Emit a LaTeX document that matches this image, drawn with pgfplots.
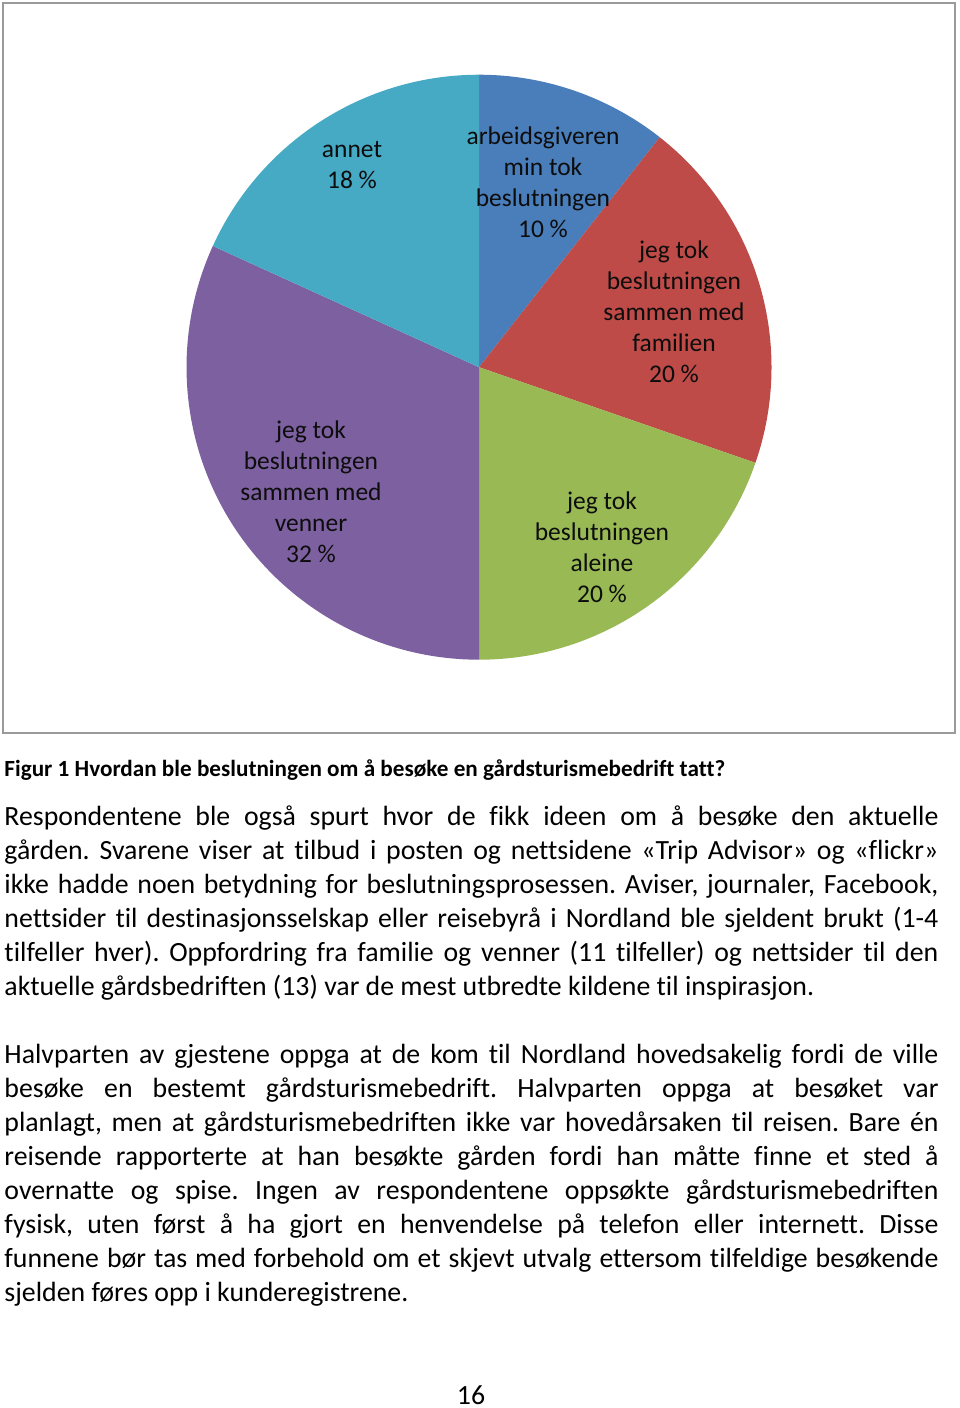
\documentclass[border=0pt]{standalone}
\usepackage{fontspec}
\setmainfont{Carlito}[Ligatures=NoCommon]
\usepackage{pgfplots}
\pgfplotsset{compat=1.18}
\usepackage{pgfplotstable}
\definecolor{pieblue}{HTML}{4A7EBB}
\definecolor{piered}{HTML}{BE4B48}
\definecolor{piegreen}{HTML}{98B954}
\definecolor{piepurple}{HTML}{7D60A0}
\definecolor{piecyan}{HTML}{46AAC5}
\definecolor{boxgray}{HTML}{9A9A9A}
\definecolor{lbl}{HTML}{0D0D0D}
\pgfplotstableread{
label share
arbeidsgiveren 10.6
familien 19.7
aleine 19.7
venner 31.8
annet 18.2
}\piedata
\pgfplotstablegetelem{0}{share}\of\piedata \edef\vA{\pgfplotsretval}
\pgfplotstablegetelem{1}{share}\of\piedata \edef\vB{\pgfplotsretval}
\pgfplotstablegetelem{2}{share}\of\piedata \edef\vC{\pgfplotsretval}
\pgfplotstablegetelem{3}{share}\of\piedata \edef\vD{\pgfplotsretval}
\pgfplotstablegetelem{4}{share}\of\piedata \edef\vE{\pgfplotsretval}
\pgfmathsetmacro\aA{90}
\pgfmathsetmacro\aB{\aA-3.6*\vA}
\pgfmathsetmacro\aC{\aB-3.6*\vB}
\pgfmathsetmacro\aD{\aC-3.6*\vC}
\pgfmathsetmacro\aE{\aD-3.6*\vD}
\pgfmathsetmacro\aF{\aE-3.6*\vE}
\newcommand\bodyfont{\fontsize{12pt}{14.64pt}\selectfont}
\newcommand\lblfont{\fontsize{11pt}{13.4pt}\selectfont}
\newcommand\W{403.1pt}
\frenchspacing
\begin{document}
\frenchspacing
\begin{tikzpicture}
\begin{scope}[x=0.4316pt,y=-0.4316pt]
\path (0,0) rectangle (960,1408);
\draw[boxgray, line width=0.8pt] (3,3) rectangle (955,733);
\end{scope}
\begin{axis}[at={(206.74pt,-158.48pt)}, anchor=center, scale only axis,
  width=252.48pt, height=252.48pt, hide axis,
  xmin=-1, xmax=1, ymin=-1, ymax=1, clip=false]
\fill[pieblue] (axis cs:0,0) -- (axis cs:{cos(\aA)},{sin(\aA)}) arc[start angle=\aA, end angle=\aB, radius=126.24pt] -- cycle;
\fill[piered] (axis cs:0,0) -- (axis cs:{cos(\aB)},{sin(\aB)}) arc[start angle=\aB, end angle=\aC, radius=126.24pt] -- cycle;
\fill[piegreen] (axis cs:0,0) -- (axis cs:{cos(\aC)},{sin(\aC)}) arc[start angle=\aC, end angle=\aD, radius=126.24pt] -- cycle;
\fill[piepurple] (axis cs:0,0) -- (axis cs:{cos(\aD)},{sin(\aD)}) arc[start angle=\aD, end angle=\aE, radius=126.24pt] -- cycle;
\fill[piecyan] (axis cs:0,0) -- (axis cs:{cos(\aE)},{sin(\aE)}) arc[start angle=\aE, end angle=\aF, radius=126.24pt] -- cycle;
\end{axis}
\begin{scope}[x=0.4316pt,y=-0.4316pt]
% pie labels
\begin{scope}[every node/.style={anchor=base, inner sep=0pt, font=\lblfont, text=lbl}]
\foreach \t [count=\i from 0] in {arbeidsgiveren, min tok, beslutningen, 10 \%}
  \node at (543, 144+31*\i) {\t};
\foreach \t [count=\i from 0] in {jeg tok, beslutningen, sammen med, familien, 20 \%}
  \node at (674, 258+31*\i) {\t};
\foreach \t [count=\i from 0] in {jeg tok, beslutningen, aleine, 20 \%}
  \node at (602, 509+31*\i) {\t};
\foreach \t [count=\i from 0] in {jeg tok, beslutningen, sammen med, venner, 32 \%}
  \node at (311, 438+31*\i) {\t};
\foreach \t [count=\i from 0] in {annet, 18 \%}
  \node at (352, 157+31*\i) {\t};
\end{scope}
% caption and text
\begin{scope}[every node/.style={anchor=base west, inner sep=0pt, font=\bodyfont}]
\node[font=\fontsize{10pt}{12pt}\selectfont\bfseries] at (4,776) {Figur 1 Hvordan ble beslutningen om å besøke en gårdsturismebedrift tatt?};
\node at (4,825) {\hbox to \W{Respondentene ble også spurt hvor de fikk ideen om å besøke den aktuelle}};
\node at (4,859) {\hbox to \W{gården. Svarene viser at tilbud i posten og nettsidene «Trip Advisor» og «flickr»}};
\node at (4,893) {\hbox to \W{ikke hadde noen betydning for beslutningsprosessen. Aviser, journaler, Facebook,}};
\node at (4,927) {\hbox to \W{nettsider til destinasjonsselskap eller reisebyrå i Nordland ble sjeldent brukt (1-4}};
\node at (4,961) {\hbox to \W{tilfeller hver). Oppfordring fra familie og venner (11 tilfeller) og nettsider til den}};
\node at (4,995) {aktuelle gårdsbedriften (13) var de mest utbredte kildene til inspirasjon.};
\node at (4,1063) {\hbox to \W{Halvparten av gjestene oppga at de kom til Nordland hovedsakelig fordi de ville}};
\node at (4,1097) {\hbox to \W{besøke en bestemt gårdsturismebedrift. Halvparten oppga at besøket var}};
\node at (4,1131) {\hbox to \W{planlagt, men at gårdsturismebedriften ikke var hovedårsaken til reisen. Bare én}};
\node at (4,1165) {\hbox to \W{reisende rapporterte at han besøkte gården fordi han måtte finne et sted å}};
\node at (4,1199) {\hbox to \W{overnatte og spise. Ingen av respondentene oppsøkte gårdsturismebedriften}};
\node at (4,1233) {\hbox to \W{fysisk, uten først å ha gjort en henvendelse på telefon eller internett. Disse}};
\node at (4,1267) {\hbox to \W{funnene bør tas med forbehold om et skjevt utvalg ettersom tilfeldige besøkende}};
\node at (4,1301) {sjelden føres opp i kunderegistrene.};
\node[anchor=base] at (471,1404) {16};
\end{scope}
\end{scope}
\end{tikzpicture}
\end{document}
